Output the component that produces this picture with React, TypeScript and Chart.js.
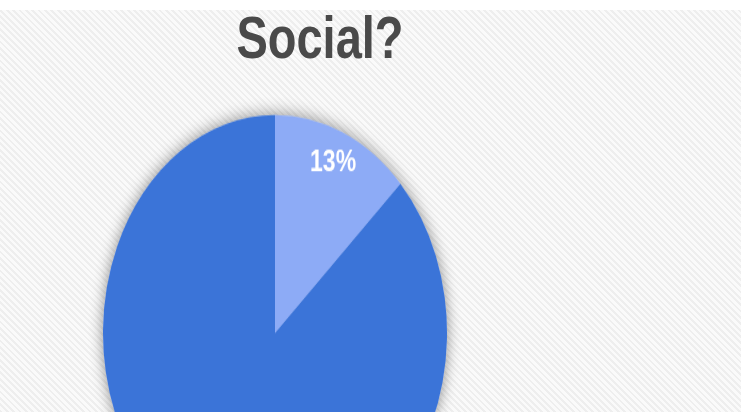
import React, { useEffect, useRef } from "react";
import { Chart, registerables } from "chart.js";

Chart.register(...registerables);

const titleText = "Social?";
const categories = ["Yes", "No"];
const values = [13, 87];
const sliceColors = ["#8dabf6", "#3b74d8"];

const STRETCH = 218 / 172;

const shadowPlugin = {
  id: "pieShadow",
  beforeDatasetsDraw(chart: any) {
    const meta = chart.getDatasetMeta(0);
    const arc = meta.data[0];
    if (!arc) return;
    const { x, y, outerRadius } = arc.getProps(["x", "y", "outerRadius"], true);
    const ctx = chart.ctx;
    ctx.save();
    ctx.shadowColor = "rgba(0,0,0,0.45)";
    ctx.shadowBlur = 14;
    ctx.beginPath();
    ctx.arc(x, y, outerRadius, 0, Math.PI * 2);
    ctx.fillStyle = "#b9cdf7";
    ctx.fill();
    ctx.restore();
  },
};

const labelPlugin = {
  id: "pctLabels",
  afterDatasetsDraw(chart: any) {
    const meta = chart.getDatasetMeta(0);
    const data = chart.data.datasets[0].data as number[];
    const total = data.reduce((a, b) => a + b, 0);
    const ctx = chart.ctx;
    ctx.save();
    ctx.fillStyle = "#ffffff";
    ctx.font = "bold 23px 'Liberation Sans', Arial, sans-serif";
    ctx.textAlign = "center";
    ctx.textBaseline = "middle";
    meta.data.forEach((arc: any, i: number) => {
      const { x, y, startAngle, endAngle, outerRadius } = arc.getProps(
        ["x", "y", "startAngle", "endAngle", "outerRadius"],
        true
      );
      const mid = (startAngle + endAngle) / 2;
      const r = outerRadius * 0.85;
      const pct = Math.round((data[i] / total) * 100) + "%";
      ctx.fillText(pct, x + Math.cos(mid) * r, y + Math.sin(mid) * r);
    });
    ctx.restore();
  },
};

export default function App() {
  const ref = useRef<HTMLCanvasElement | null>(null);
  useEffect(() => {
    if (!ref.current) return;
    const chart = new Chart(ref.current, {
      type: "pie",
      data: {
        labels: categories,
        datasets: [
          {
            data: values,
            backgroundColor: sliceColors,
            borderWidth: 0,
          },
        ],
      },
      options: {
        responsive: false,
        animation: false,
        layout: { padding: { left: 103, right: 294, top: 90.7, bottom: 15.3 } },
        plugins: {
          legend: { display: false },
          tooltip: { enabled: false },
          title: { display: false },
        },
      },
      plugins: [shadowPlugin, labelPlugin],
    });
    return () => chart.destroy();
  }, []);

  return (
    <div
      style={{
        position: "fixed",
        left: 0,
        top: 0,
        width: 741,
        height: 412,
        overflow: "hidden",
        background: "#ffffff",
      }}
    >
      <div
        style={{
          position: "absolute",
          left: 0,
          top: 10,
          width: 741,
          height: 402,
          background:
            "repeating-linear-gradient(45deg, #eeeeee 0px, #eeeeee 2px, #fafafa 2px, #fafafa 4.5px)",
        }}
      />
      <canvas
        ref={ref}
        width={741}
        height={450}
        style={{
          position: "absolute",
          left: 0,
          top: 0,
          width: 741,
          height: 450,
          transform: `scaleY(${STRETCH})`,
          transformOrigin: "0 0",
        }}
      />
      <div
        style={{
          position: "absolute",
          left: 120,
          width: 400,
          top: 1.5,
          textAlign: "center",
          fontFamily: "'Liberation Sans', Arial, sans-serif",
          fontWeight: "bold",
          fontSize: 47,
          lineHeight: "56px",
          color: "#4a4a4a",
          transform: `scaleY(${STRETCH})`,
          transformOrigin: "0 0",
        }}
      >
        {titleText}
      </div>
    </div>
  );
}
